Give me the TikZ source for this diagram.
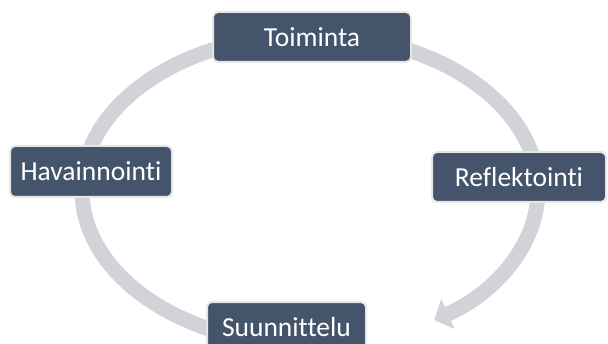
\documentclass[tikz,border=0pt]{standalone}
\usepackage{fontspec}
\setmainfont{Carlito}[Ligatures={NoCommon,NoContextual}]
\usetikzlibrary{arrows.meta}

\definecolor{rslate}{HTML}{44546A}
\definecolor{rrim}{HTML}{E6E6E6}
\definecolor{rarc}{HTML}{D1D3D8}

\tikzset{
  stage/.style={draw=rrim, line width=2pt, fill=rslate, rounded corners=5pt,
    text=white, minimum height=50pt, inner sep=0pt,
    font=\fontsize{27.5}{31}\selectfont},
}

\begin{document}
\begin{tikzpicture}[x=1pt,y=1pt]
  \useasboundingbox (0,0) rectangle (608,343);
  \coordinate (c) at (310,153);
  % the cycle arrow
  \draw[rarc, line width=15pt, -{Triangle[width=32pt,length=15pt]}]
    ([shift={(265:228 and 155)}]c) arc[start angle=265, end angle=-57, x radius=228, y radius=155];
  \node[stage, minimum width=198pt] (toiminta) at (312,306) {Toiminta};
  \node[stage, minimum width=174pt] (reflektointi) at (519,166) {Reflektointi};
  \node[stage, minimum width=162pt, minimum height=51pt] (havainnointi) at (91,171.5) {Havainnointi};
  \node[stage, minimum width=159pt] (suunnittelu) at (286.5,16) {Suunnittelu};
\end{tikzpicture}
\end{document}
